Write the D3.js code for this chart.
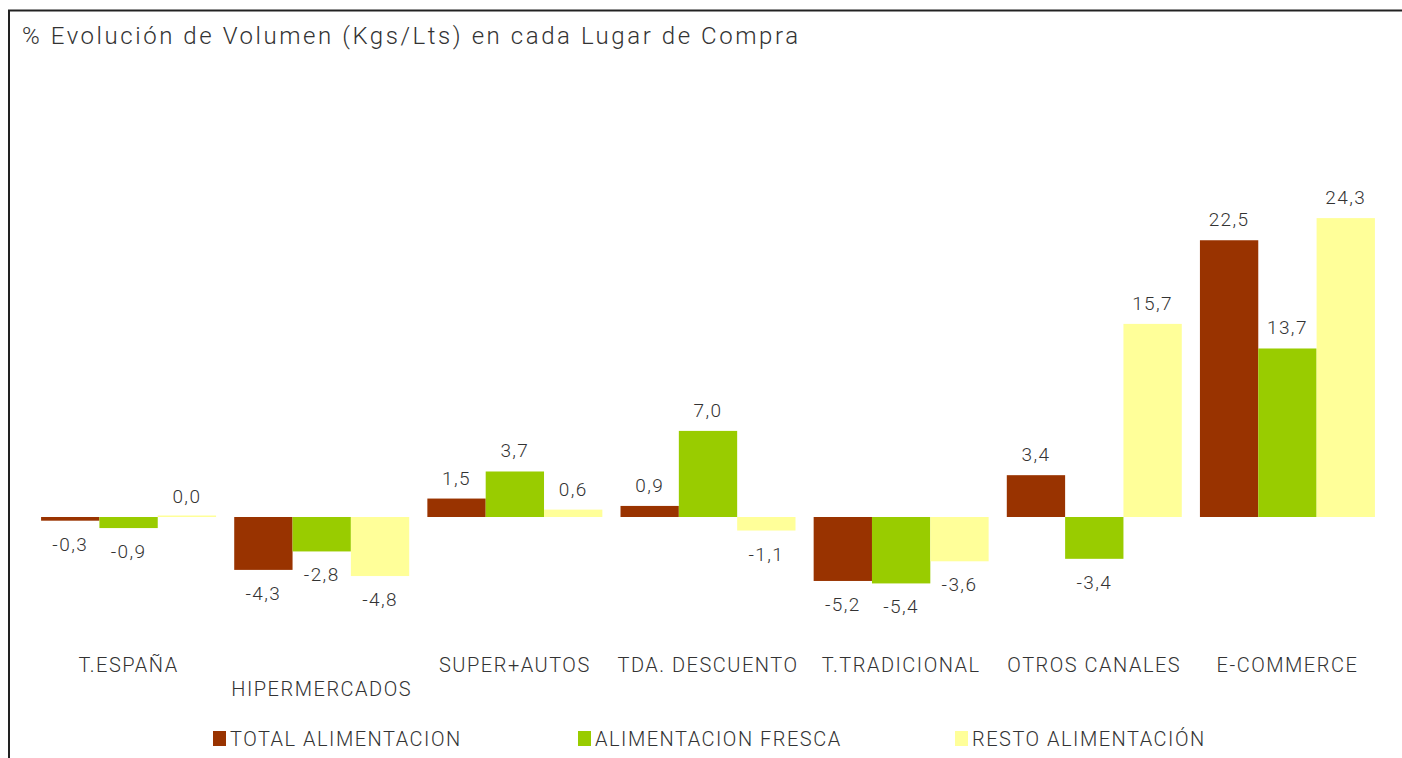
<!DOCTYPE html>
<html>
<head>
<meta charset="utf-8">
<script src="https://cdn.jsdelivr.net/npm/d3@7"></script>
<style>
  html, body { margin: 0; padding: 0; background: #fff; }
  svg { display: block; }
  text { font-family: Roboto, "Liberation Sans", Arial, sans-serif; font-weight: 300; fill: #333; }
</style>
</head>
<body>
<svg id="chart" width="1402" height="758"></svg>
<script>
// Purchase channels
const categories = ["T.ESPAÑA", "HIPERMERCADOS", "SUPER+AUTOS", "TDA. DESCUENTO", "T.TRADICIONAL", "OTROS CANALES", "E-COMMERCE"];
// Series names
const seriesNames = ["TOTAL ALIMENTACION", "ALIMENTACION FRESCA", "RESTO ALIMENTACIÓN"];
// % volume change per channel
const totalAlimentacion = [-0.3, -4.3, 1.5, 0.9, -5.2, 3.4, 22.5];
const alimentacionFresca = [-0.9, -2.8, 3.7, 7.0, -5.4, -3.4, 13.7];
const restoAlimentacion = [0.0, -4.8, 0.6, -1.1, -3.6, 15.7, 24.3];
const seriesValues = [totalAlimentacion, alimentacionFresca, restoAlimentacion];
const seriesColors = ["#993300", "#99CC00", "#FFFF99"];
// Category labels drawn on a second row
const staggered = ["HIPERMERCADOS"];

const svg = d3.select("#chart");

// Frame lines (top and left)
svg.append("line").attr("x1", 8).attr("x2", 1402).attr("y1", 10.5).attr("y2", 10.5)
  .attr("stroke", "#222").attr("stroke-width", 2);
svg.append("line").attr("x1", 9).attr("x2", 9).attr("y1", 10).attr("y2", 758)
  .attr("stroke", "#222").attr("stroke-width", 2);

// Title
svg.append("text")
  .attr("x", 22).attr("y", 44)
  .style("font-size", "24px")
  .attr("textLength", 776).attr("lengthAdjust", "spacing")
  .text("% Evolución de Volumen (Kgs/Lts) en cada Lugar de Compra");

const x = d3.scaleBand().domain(categories).range([32, 1384])
  .paddingInner(0.094).paddingOuter(0.047);
const xs = d3.scaleBand().domain(seriesNames).range([0, x.bandwidth()]);
const y = d3.scaleLinear().domain([-10, 30]).range([640, 148]);

const rows = categories.flatMap((c, i) =>
  seriesNames.map((s, j) => ({ cat: c, series: s, j, value: seriesValues[j][i] })));

const g = svg.append("g");

g.selectAll("rect.bar").data(rows).enter().append("rect")
  .attr("class", "bar")
  .attr("x", d => x(d.cat) + xs(d.series))
  .attr("width", xs.bandwidth())
  .attr("y", d => d.value === 0 ? y(0) - 1.5 : Math.min(y(0), y(d.value)))
  .attr("height", d => d.value === 0 ? 1.5 : Math.abs(y(d.value) - y(0)))
  .attr("fill", d => seriesColors[d.j]);

// Value labels
g.selectAll("text.val").data(rows).enter().append("text")
  .attr("class", "val")
  .attr("x", d => x(d.cat) + xs(d.series) + xs.bandwidth() / 2)
  .attr("y", d => d.value >= 0 ? y(d.value) - 14 : y(d.value) + 30)
  .attr("text-anchor", "middle")
  .style("font-size", "19px")
  .style("letter-spacing", "1.4px")
  .text(d => d3.format(".1f")(d.value).replace(".", ",").replace("−", "-"));

// Category axis labels
svg.append("g").selectAll("text.cat").data(categories).enter().append("text")
  .attr("class", "cat")
  .attr("x", d => x(d) + x.bandwidth() / 2)
  .attr("y", d => staggered.includes(d) ? 696 : 672)
  .attr("text-anchor", "middle")
  .style("font-size", "20px")
  .style("letter-spacing", "1.5px")
  .text(d => d);

// Legend
const legendX = [213, 578, 955];
const legend = svg.append("g").selectAll("g").data(seriesNames).enter().append("g")
  .attr("transform", (d, i) => `translate(${legendX[i]},731)`);
legend.append("rect").attr("width", 13).attr("height", 15)
  .attr("fill", (d, i) => seriesColors[i]);
legend.append("text").attr("x", 17).attr("y", 15)
  .style("font-size", "20px")
  .style("letter-spacing", "1.5px")
  .text(d => d);
</script>
</body>
</html>
